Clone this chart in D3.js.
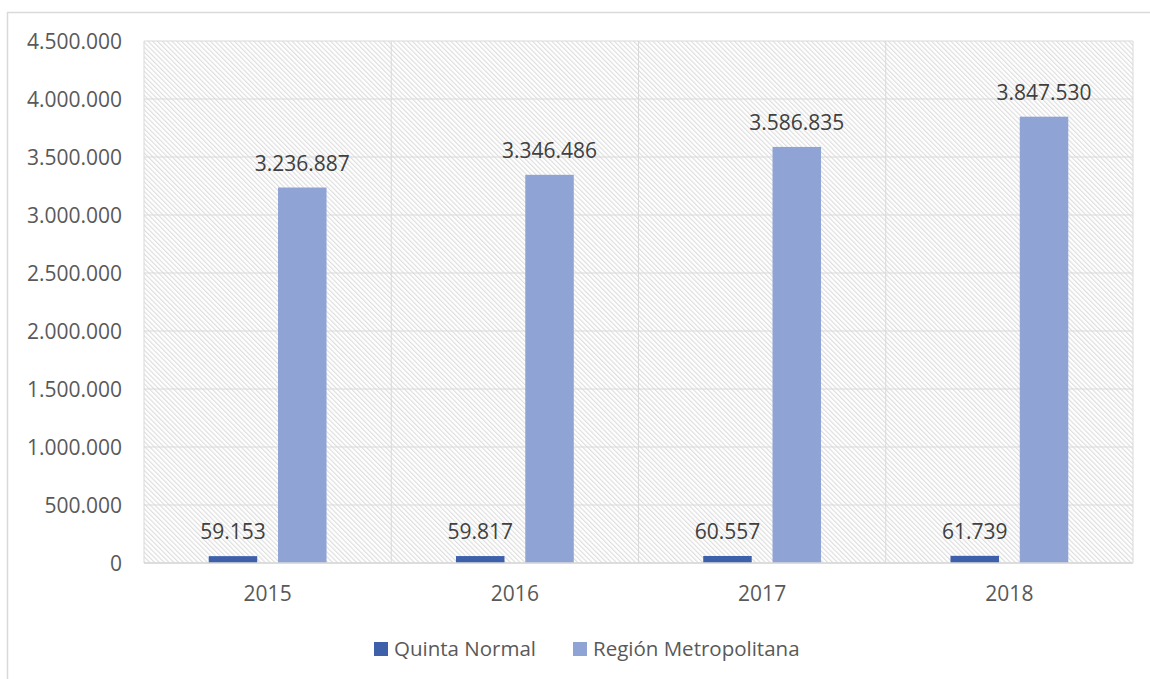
<!DOCTYPE html>
<html><head><meta charset="utf-8">
<script src="https://cdn.jsdelivr.net/npm/d3@7"></script>
<style>
html,body{margin:0;padding:0;background:#fff;}
text{font-family:"Open Sans",sans-serif;}
</style></head>
<body>
<svg id="c" width="1150" height="679"></svg>
<script>
const categories = ["2015","2016","2017","2018"];
const seriesNames = ["Quinta Normal","Región Metropolitana"];
const quintaNormal = [59153, 59817, 60557, 61739];
const regionMetropolitana = [3236887, 3346486, 3586835, 3847530];
const yTicks = [0,500000,1000000,1500000,2000000,2500000,3000000,3500000,4000000,4500000];
const colors = ["#3E60AB","#8FA4D4"];

const svg = d3.select("#c");
const plot = {left:144, right:1133, top:41, bottom:563};

// outer frame
svg.append("rect").attr("x",7.5).attr("y",12.5).attr("width",1200).attr("height",800)
  .attr("fill","none").attr("stroke","#d9d9d9").attr("stroke-width",1.5);

// hatch pattern
const defs = svg.append("defs");
const pat = defs.append("pattern").attr("id","hatch").attr("patternUnits","userSpaceOnUse")
  .attr("width",3.4).attr("height",3.4).attr("patternTransform","rotate(-45)");
pat.append("rect").attr("width",3.4).attr("height",3.4).attr("fill","#ffffff");
pat.append("line").attr("x1",0.6).attr("y1",0).attr("x2",0.6).attr("y2",3.4)
  .attr("stroke","#dcdcdc").attr("stroke-width",1.1);

svg.append("rect").attr("x",plot.left).attr("y",plot.top)
  .attr("width",plot.right-plot.left).attr("height",plot.bottom-plot.top)
  .attr("fill","url(#hatch)");

const x0 = d3.scaleBand().domain(categories).range([plot.left, plot.right]).padding(0);
const x1 = d3.scaleBand().domain(seriesNames).range([0, x0.bandwidth()]).paddingInner(0.3).paddingOuter(0.934);
const y = d3.scaleLinear().domain([0,4500000]).range([plot.bottom, plot.top]);

const fmt = v => d3.format(",")(v).replace(/,/g,".");

// horizontal gridlines
svg.append("g").selectAll("line").data(yTicks).join("line")
  .attr("x1",plot.left).attr("x2",plot.right)
  .attr("y1",d=>y(d)).attr("y2",d=>y(d))
  .attr("stroke","#d9d9d9").attr("stroke-width",1);
// vertical gridlines at category boundaries
const bounds = categories.map(c=>x0(c)).concat([plot.right]);
svg.append("g").selectAll("line").data(bounds).join("line")
  .attr("x1",d=>d).attr("x2",d=>d).attr("y1",plot.top).attr("y2",plot.bottom)
  .attr("stroke","#d9d9d9").attr("stroke-width",1);

// y tick labels
svg.append("g").selectAll("text").data(yTicks).join("text")
  .attr("x",122).attr("y",d=>y(d)+7.5).attr("text-anchor","end")
  .attr("font-size",21).attr("fill","#595959").text(d=>fmt(d));

// x labels
svg.append("g").selectAll("text").data(categories).join("text")
  .attr("x",d=>x0(d)+x0.bandwidth()/2).attr("y",600.5).attr("text-anchor","middle")
  .attr("font-size",21).attr("fill","#595959").text(d=>d);

const seriesData = [quintaNormal, regionMetropolitana];
const rows = [];
seriesNames.forEach((s,si)=>categories.forEach((c,ci)=>rows.push({s,si,c,v:seriesData[si][ci]})));

svg.append("g").selectAll("rect").data(rows).join("rect")
  .attr("x",d=>x0(d.c)+x1(d.s)).attr("width",x1.bandwidth())
  .attr("y",d=>y(d.v)).attr("height",d=>y(0)-y(d.v))
  .attr("fill",d=>colors[d.si]);

// baseline axis line
svg.append("line").attr("x1",plot.left).attr("x2",plot.right).attr("y1",plot.bottom).attr("y2",plot.bottom)
  .attr("stroke","#d9d9d9").attr("stroke-width",1.5);

svg.append("g").selectAll("text").data(rows).join("text")
  .attr("x",d=>x0(d.c)+x1(d.s)+x1.bandwidth()/2).attr("y",d=>y(d.v)-17)
  .attr("text-anchor","middle").attr("font-size",21).attr("fill","#404040").text(d=>fmt(d.v));

// legend
const lg = svg.append("g");
let lx = 374;
seriesNames.forEach((s,i)=>{
  lg.append("rect").attr("x",lx).attr("y",642).attr("width",14).attr("height",14).attr("fill",colors[i]);
  const t = lg.append("text").attr("x",lx+20).attr("y",655.5).attr("font-size",20.5).attr("fill","#595959").text(s);
  lx = lx + 20 + t.node().getComputedTextLength() + 37;
});
</script>
</body></html>
